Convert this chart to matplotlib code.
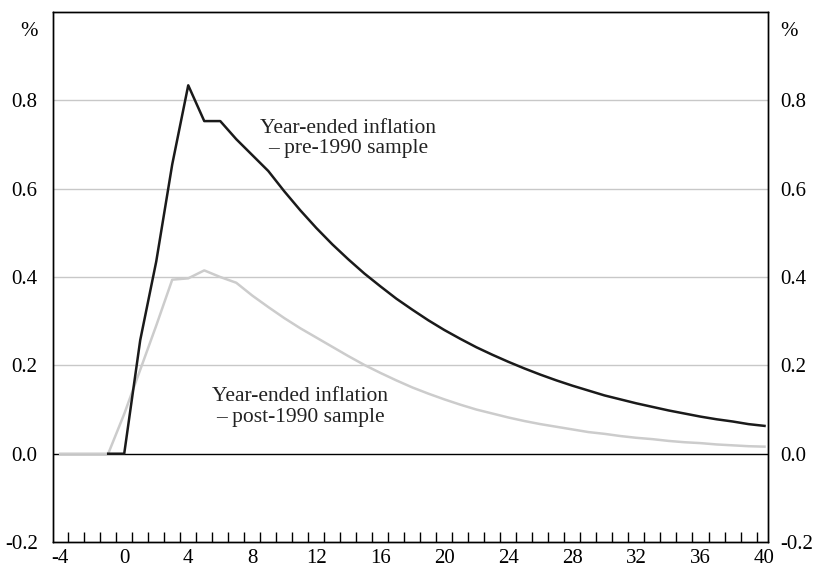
import numpy as np
import matplotlib.pyplot as plt

# Quarters after shock
quarters = list(range(-4, 41))

# Year-ended inflation response, pre-1990 sample (starts at -1)
pre_1990 = [np.nan, np.nan, np.nan, 0.0, 0.0, 0.257, 0.435, 0.655, 0.834, 0.753,
            0.753, 0.712, 0.676, 0.640, 0.594, 0.551, 0.511, 0.474, 0.440, 0.408,
            0.379, 0.351, 0.326, 0.302, 0.280, 0.260, 0.241, 0.224, 0.208, 0.193,
            0.179, 0.166, 0.154, 0.143, 0.132, 0.123, 0.114, 0.106, 0.098, 0.091,
            0.084, 0.078, 0.073, 0.067, 0.063]

# Year-ended inflation response, post-1990 sample
post_1990 = [0.0, 0.0, 0.0, 0.0, 0.09, 0.19, 0.29, 0.394, 0.397, 0.415,
             0.400, 0.387, 0.358, 0.332, 0.307, 0.284, 0.263, 0.242, 0.221, 0.201,
             0.183, 0.166, 0.150, 0.136, 0.123, 0.111, 0.100, 0.091, 0.082, 0.074,
             0.067, 0.061, 0.055, 0.049, 0.045, 0.040, 0.036, 0.033, 0.029, 0.026,
             0.024, 0.021, 0.019, 0.017, 0.016]

x_ticks = list(range(-4, 41, 4))
y_ticks = [-0.2, 0.0, 0.2, 0.4, 0.6, 0.8]
grid_levels = [0.2, 0.4, 0.6, 0.8]

plt.rcParams['font.family'] = ['Liberation Serif', 'DejaVu Serif']

fig = plt.figure(figsize=(8.15, 5.70), dpi=100)
ax = fig.add_axes([0.065, 0.049, 0.877, 0.930])

for g in grid_levels:
    ax.axhline(g, color="#c8c8c8", linewidth=1.0, zorder=1)
ax.axhline(0, color="black", linewidth=1.0, zorder=2)

ax.plot(quarters, post_1990, color="#cccccc", linewidth=1.8, zorder=3)
ax.plot(quarters, pre_1990, color="#1a1a1a", linewidth=1.8, zorder=4)

ax.text(14, 0.714, "Year-ended inflation\n– pre-1990 sample", ha="center", va="center",
        fontsize=15.5, color="#222222", linespacing=1.1)
ax.text(11, 0.106, "Year-ended inflation\n– post-1990 sample", ha="center", va="center",
        fontsize=15.5, color="#222222", linespacing=1.1)

ax.set_xlim(-4.45, 40.2)
ax.set_ylim(-0.2, 1.0)

ax.set_xticks(x_ticks)
ax.set_xticklabels([str(v) for v in x_ticks], fontsize=15)
ax.set_xticks(np.arange(-3.5, 40, 1), minor=True)
ax.tick_params(axis="x", which="major", length=0, pad=5)
ax.tick_params(axis="x", which="minor", direction="in", length=7, width=1, color="black")

# y labels, with "%" at the top of each side
yt = y_ticks + [0.962]
yl = ["%.1f" % v for v in y_ticks] + ["%"]
ax.set_yticks(yt)
ax.set_yticklabels(yl, fontsize=15)
ax.tick_params(axis="y", length=0, pad=11)

ax2 = ax.twinx()
ax2.set_ylim(-0.2, 1.0)
ax2.set_yticks(yt)
ax2.set_yticklabels(yl, fontsize=15)
ax2.tick_params(axis="y", length=0, pad=9)

for a in (ax, ax2):
    for s in a.spines.values():
        s.set_color("black")
        s.set_linewidth(1.0)

fig.savefig("out.png", dpi=100)
